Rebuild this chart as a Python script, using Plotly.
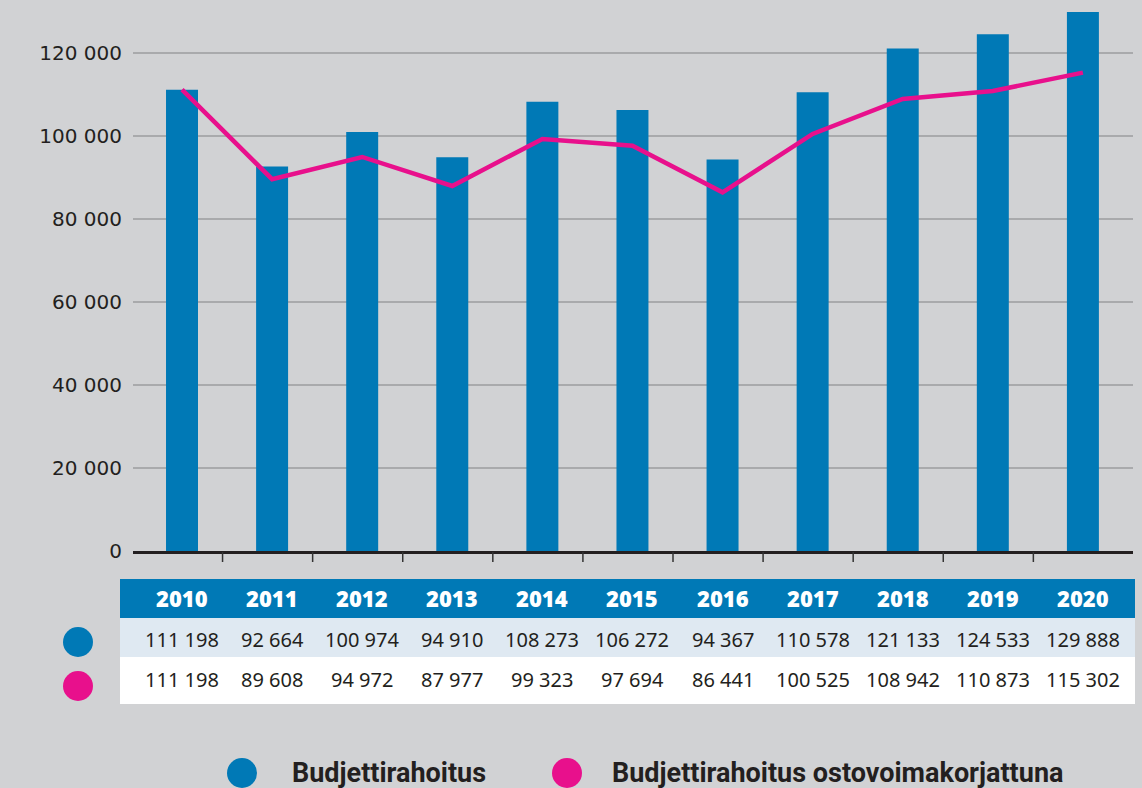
import plotly.graph_objects as go

# ---------------- data ----------------
years = ["2010", "2011", "2012", "2013", "2014", "2015", "2016", "2017", "2018", "2019", "2020"]
budget = [111198, 92664, 100974, 94910, 108273, 106272, 94367, 110578, 121133, 124533, 129888]
adjusted = [111198, 89608, 94972, 87977, 99323, 97694, 86441, 100525, 108942, 110873, 115302]
y_ticks = [0, 20000, 40000, 60000, 80000, 100000, 120000]
y_tick_labels = ["0", "20 000", "40 000", "60 000", "80 000", "100 000", "120 000"]
series_names = ["Budjettirahoitus", "Budjettirahoitus ostovoimakorjattuna"]

# ---------------- style ----------------
BLUE = "#0079b6"
PINK = "#e8108c"
BG = "#d1d2d4"
LIGHT = "#dfe9f2"
TEXT = "#231f20"
GRID = "#a9aaac"

W, H = 1142, 788
ML, MR, MT, MB = 133, 9, 5, 237
ANN_SHIFT = 15  # empirical vertical correction for axis-referenced annotations


def px_x(px):
    return (px - ML) / (W - ML - MR)


def px_y(py):
    return (H - MB - py) / (H - MT - MB)


def fmt(v):
    return f"{v:,}".replace(",", " ")


fig = go.Figure()
fig.add_bar(x=years, y=budget, name=series_names[0], marker=dict(color=BLUE, line=dict(width=0)),
            width=0.355, hoverinfo="x+y")
fig.add_scatter(x=years, y=adjusted, name=series_names[1], mode="lines",
                line=dict(color=PINK, width=4.5), hoverinfo="x+y")

shapes = []
annotations = []

# x-axis tick marks between categories
for i in range(len(years) - 1):
    shapes.append(dict(type="line", xref="x", yref="paper",
                       x0=i + 0.45, x1=i + 0.45, y0=px_y(552), y1=px_y(562),
                       line=dict(color="#333333", width=1.5)))

# table rectangles
tbl_left, tbl_right = 120, 1135
rows = [(579, 618, BLUE), (618, 657, LIGHT), (657, 704, "white")]
for top, bot, col in rows:
    shapes.append(dict(type="rect", xref="paper", yref="paper",
                       x0=px_x(tbl_left), x1=px_x(tbl_right), y0=px_y(bot), y1=px_y(top),
                       fillcolor=col, line=dict(width=0), layer="below"))

# row marker circles
for cy, col in [(642, BLUE), (686, PINK)]:
    r = 15
    shapes.append(dict(type="circle", xref="paper", yref="paper",
                       x0=px_x(78 - r), x1=px_x(78 + r), y0=px_y(cy + r), y1=px_y(cy - r),
                       fillcolor=col, line=dict(width=0)))

# table text (x positions via the category axis index)
for i, yr in enumerate(years):
    annotations.append(dict(x=i, y=px_y(600 + ANN_SHIFT), xref="x", yref="paper", text=yr,
                            showarrow=False,
                            font=dict(family="Open Sans", size=22, color="white", weight=800)))
    annotations.append(dict(x=i, y=px_y(640 + ANN_SHIFT), xref="x", yref="paper", text=fmt(budget[i]),
                            showarrow=False, font=dict(family="Noto Sans", size=20, color=TEXT)))
    annotations.append(dict(x=i, y=px_y(680 + ANN_SHIFT), xref="x", yref="paper", text=fmt(adjusted[i]),
                            showarrow=False, font=dict(family="Noto Sans", size=20, color=TEXT)))

# bottom legend
for cx, tx, col, name in [(242, 290, BLUE, series_names[0]), (567, 610, PINK, series_names[1])]:
    r = 15
    shapes.append(dict(type="circle", xref="paper", yref="paper",
                       x0=px_x(cx - r), x1=px_x(cx + r), y0=px_y(773 + r), y1=px_y(773 - r),
                       fillcolor=col, line=dict(width=0)))
    annotations.append(dict(x=px_x(tx), y=px_y(773), xref="paper", yref="paper", text=name,
                            xanchor="left", yanchor="middle", showarrow=False,
                            font=dict(family="Roboto", size=27, color=TEXT, weight="bold")))

fig.update_layout(
    width=W, height=H,
    margin=dict(l=ML, r=MR, t=MT, b=MB, pad=0),
    paper_bgcolor=BG, plot_bgcolor=BG,
    showlegend=False,
    shapes=shapes, annotations=annotations,
    xaxis=dict(type="category", range=[-0.544, 10.556], showticklabels=False,
               showline=True, linecolor=TEXT, linewidth=3, ticks="",
               showgrid=False, zeroline=False, fixedrange=True),
    yaxis=dict(range=[0, 131600], tickvals=y_ticks, ticktext=y_tick_labels,
               showgrid=True, gridcolor=GRID, gridwidth=1.5, zeroline=False,
               ticks="", ticklabelstandoff=10,
               tickfont=dict(family="DejaVu Sans", size=20, color=TEXT), fixedrange=True),
)

fig.write_html(
    "out.html",
    config={"displayModeBar": False},
    post_script="document.body.style.margin='0';document.body.style.background='" + BG + "';",
)
